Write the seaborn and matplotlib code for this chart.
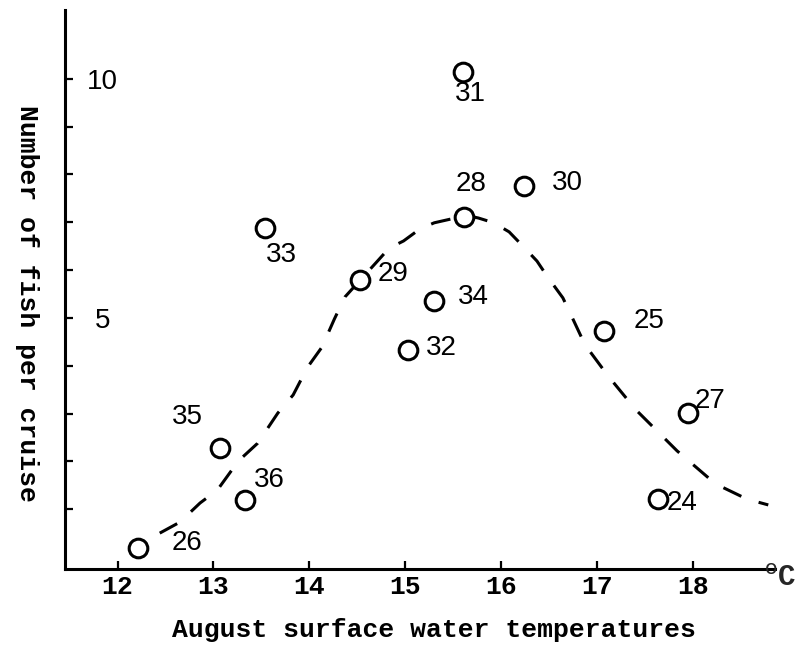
import matplotlib
matplotlib.use("Agg")
import matplotlib.pyplot as plt
import seaborn as sns
import pandas as pd

# ---- data ----
cruise_labels = ['26', '35', '36', '33', '29', '32', '34', '31', '28', '30', '25', '27', '24']
temperature = [12.21, 13.07, 13.33, 13.54, 14.53, 15.03, 15.30, 15.60, 15.61, 16.24, 17.07, 17.94, 17.63]
fish_per_cruise = [0.19, 2.28, 1.19, 6.88, 5.79, 4.33, 5.36, 10.15, 7.11, 7.76, 4.73, 3.01, 1.21]

curve_temp = [12.44, 12.65, 12.86, 13.04, 13.26, 13.46, 13.67, 13.83, 13.98, 14.13, 14.26, 14.37,
              14.70, 14.83, 14.98, 15.15, 15.30, 15.52, 15.62, 15.76, 15.92, 16.08, 16.21, 16.37,
              16.48, 16.64, 16.73, 16.87, 17.11, 17.40, 17.83, 18.23, 18.56, 18.78]
curve_fish = [0.50, 0.73, 1.13, 1.40, 2.01, 2.38, 3.01, 3.39, 3.97, 4.39, 4.98, 5.44,
              6.17, 6.46, 6.61, 6.86, 6.99, 7.09, 7.15, 7.09, 6.99, 6.80, 6.53, 6.19,
              5.86, 5.42, 5.04, 4.44, 3.79, 3.08, 2.22, 1.53, 1.21, 1.09]

x_ticks = [12, 13, 14, 15, 16, 17, 18]
y_ticks = [1, 2, 3, 4, 5, 6, 7, 8, 9, 10]
y_tick_labels = ['', '', '', '', '5', '', '', '', '', '10']

# label offsets in pixels (right, down) relative to each point
label_offsets = [(49, -5), (-33, -31), (24, -20), (16, 27), (33, -6), (33, -2), (39, -4),
                 (7, 22), (7, -33), (43, -3), (45, -10), (22, -12), (24, 4)]

points = pd.DataFrame({'temp': temperature, 'fish': fish_per_cruise, 'cruise': cruise_labels})
curve = pd.DataFrame({'temp': curve_temp, 'fish': curve_fish})

sns.set_style('white')
plt.rcParams['font.family'] = ['Liberation Sans', 'DejaVu Sans']

fig = plt.figure(figsize=(7.97, 6.48), dpi=100)
ax = fig.add_axes([65 / 797, (648 - 569) / 648, 710 / 797, 559 / 648])

sns.lineplot(data=curve, x='temp', y='fish', sort=False, estimator=None, color='black',
             linewidth=2.2, ax=ax, zorder=2)
for ln in ax.get_lines():
    ln.set_dashes((6.5, 6))
    ln.set_solid_capstyle('round')

sns.scatterplot(data=points, x='temp', y='fish', s=180, marker='o', facecolor='white',
                edgecolor='black', linewidth=2.2, ax=ax, zorder=3)

for (lbl, tx, fy), (dx, dy) in zip(zip(cruise_labels, temperature, fish_per_cruise), label_offsets):
    ax.annotate(lbl, (tx, fy), xytext=(dx, -dy), textcoords='offset pixels',
                ha='center', va='center', fontsize=20, family=['Liberation Sans', 'DejaVu Sans'],
                color='black')

ax.set_xlim(11.453, 18.85)
ax.set_ylim(-0.25, 11.44)
for side in ['top', 'right']:
    ax.spines[side].set_visible(False)
for side in ['left', 'bottom']:
    ax.spines[side].set_linewidth(2.2)
    ax.spines[side].set_color('black')

ax.set_xticks(x_ticks)
ax.set_xticklabels([str(t) for t in x_ticks], family=['Liberation Mono', 'DejaVu Sans Mono'],
                   fontweight='bold', fontsize=19)
ax.set_yticks(y_ticks)
ax.set_yticklabels(y_tick_labels, family=['Liberation Sans', 'DejaVu Sans'], fontsize=20,
                   ha='center')
ax.tick_params(axis='x', bottom=True, direction='in', length=6, width=1.6, pad=4, colors='black')
ax.tick_params(axis='y', left=True, direction='in', length=6, width=1.6, pad=-27, colors='black')

ax.set_xlabel('August surface water temperatures', family=['Liberation Mono', 'DejaVu Sans Mono'],
              fontweight='bold', fontsize=19, color='black')
ax.xaxis.set_label_coords((434 - 65) / 710, (569 - 630) / 559)
ax.xaxis.label.set_va('center')
ax.set_ylabel('Number of fish per cruise', family=['Liberation Mono', 'DejaVu Sans Mono'],
              fontweight='bold', fontsize=19, rotation=270, color='black')
ax.yaxis.set_label_coords((27 - 65) / 710, (569 - 303) / 559)
ax.yaxis.label.set_va('center')
ax.yaxis.label.set_ha('center')

fig.text(780 / 797, 1 - 578 / 648, r'$^{\mathrm{o}}$C', ha='center', va='center', fontsize=21,
         family=['Liberation Mono', 'DejaVu Sans Mono'], fontweight='bold')

fig.savefig('out.png', dpi=100)
